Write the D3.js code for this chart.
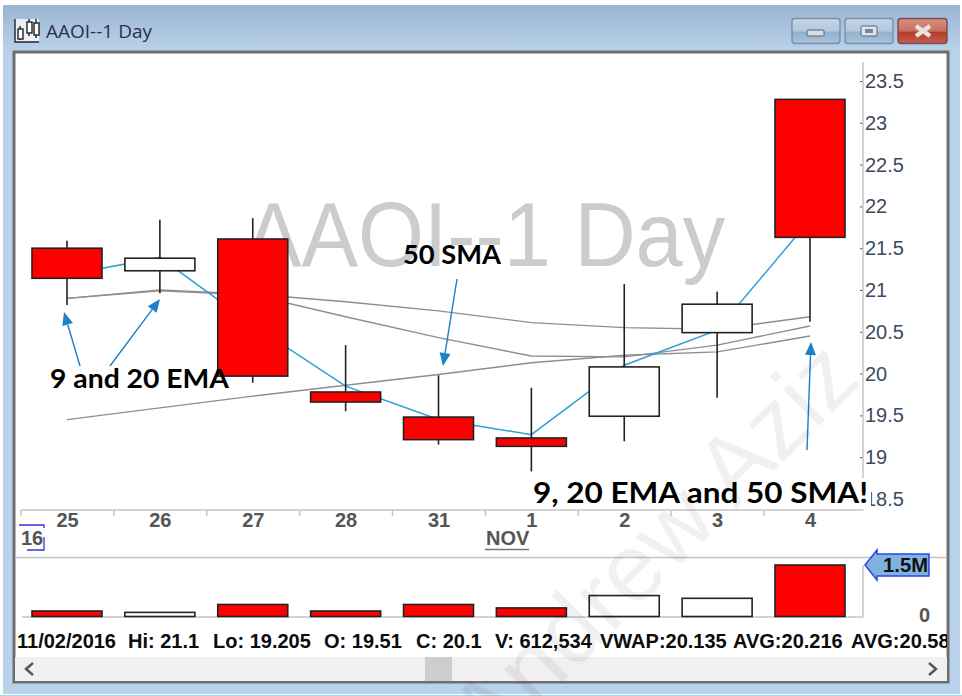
<!DOCTYPE html>
<html><head><meta charset="utf-8">
<script src="https://cdnjs.cloudflare.com/ajax/libs/d3/7.8.5/d3.min.js"></script>
<style>html,body{margin:0;padding:0;background:#fff;overflow:hidden}svg{display:block}</style>
</head><body><svg id="c" width="962" height="696"></svg>
<script>
const days = ["25","26","27","28","31","1","2","3","4"];
const highs = [21.59,21.84,21.86,20.34,19.98,19.83,21.07,20.98,23.28];
const lows = [20.82,20.96,19.89,19.55,19.15,18.83,19.19,19.71,20.62];
const opens = [21.50,21.23,21.61,19.78,19.48,19.23,19.49,20.49,23.28];
const closes = [21.14,21.38,19.97,19.66,19.21,19.13,20.08,20.83,21.63];
const volumes = [0.16,0.12,0.35,0.16,0.35,0.25,0.61,0.53,1.5];
const priceLine = [21.18,21.39,20.58,19.85,19.45,19.27,20.10,20.52,21.84];
const ema9 = [20.90,21.00,20.95,20.86,20.75,20.61,20.55,20.53,20.68];
const ema20 = [20.90,20.99,20.94,20.68,20.43,20.21,20.20,20.34,20.57];
const sma50 = [19.45,19.59,19.73,19.86,19.99,20.13,20.22,20.26,20.45];
const priceTicks = [18.5,19,19.5,20,20.5,21,21.5,22,22.5,23,23.5];
const statusLabels = ["11/02/2016","Hi: 21.1","Lo: 19.205","O: 19.51","C: 20.1","V: 612,534","VWAP:20.135","AVG:20.216","AVG:20.58"];
const statusX = [17,128,213,324,416,495,600,733,851];

const svg = d3.select("#c");
const defs = svg.append("defs");
const grad = (id,stops)=>{const g=defs.append("linearGradient").attr("id",id).attr("x1",0).attr("x2",0).attr("y1",0).attr("y2",1);
  stops.forEach(([o,c])=>g.append("stop").attr("offset",o).attr("stop-color",c));};
grad("tb",[[0,"#9ab4d2"],[1,"#bad2ea"]]);
grad("btn",[[0,"#c5d6e8"],[.5,"#b2c8de"],[.55,"#93b0cd"],[1,"#a9c3dc"]]);
grad("cls",[[0,"#d68f80"],[.5,"#c9705f"],[.55,"#b53a28"],[1,"#c4604c"]]);
defs.append("clipPath").attr("id","inner").append("rect").attr("x",15).attr("y",53).attr("width",932).attr("height",628);

// window chrome
svg.append("rect").attr("width",962).attr("height",696).attr("fill","#fff");
svg.append("rect").attr("x",3).attr("y",5).attr("width",957).attr("height",689).attr("fill","#b9d1e9");
svg.append("rect").attr("x",3).attr("y",5).attr("width",957).attr("height",46).attr("fill","url(#tb)");
svg.append("line").attr("x1",0).attr("x2",962).attr("y1",695.5).attr("y2",695.5).attr("stroke","#8fdcea");
svg.append("rect").attr("x",14).attr("y",52).attr("width",934).attr("height",630).attr("fill","#fff").attr("stroke","#6e6e6e").attr("stroke-width",3);

// title icon and text
svg.append("rect").attr("x",15).attr("y",19).attr("width",24).attr("height",23).attr("fill","#fff").attr("fill-opacity",0.75);
const icon = svg.append("g").attr("fill","none").attr("stroke","#222").attr("stroke-width",1.4);
icon.append("path").attr("d","M15 19V42H39M20 26V40M29 19V36M36 19V38");
icon.selectAll("rect").data([[18,29,5,10],[27,22,5,11],[34,23,5,12]]).join("rect")
  .attr("x",d=>d[0]).attr("y",d=>d[1]).attr("width",d=>d[2]).attr("height",d=>d[3]).attr("fill","#fff");
svg.append("text").attr("x",46).attr("y",38).attr("font-family","'Open Sans'").attr("font-size",19).attr("fill","#2a2f4a").text("AAOI--1 Day");

// window buttons
[[792,48,"url(#btn)"],[845,48,"url(#btn)"],[898,49,"url(#cls)"]].forEach(([x,w,f])=>{
  svg.append("rect").attr("x",x).attr("y",18.5).attr("width",w).attr("height",25).attr("rx",3).attr("fill",f).attr("stroke",x===898?"#7a4a5a":"#7a8fa8").attr("stroke-width",1.4);
});
svg.append("rect").attr("x",807).attr("y",30).attr("width",17).attr("height",6).attr("rx",1).attr("fill","#d8dde4").attr("stroke","#55657a");
svg.append("rect").attr("x",861).attr("y",26).attr("width",16).attr("height",10).attr("rx",1).attr("fill","#dfe4ea").attr("stroke","#55657a");
svg.append("rect").attr("x",865).attr("y",29).attr("width",8).attr("height",4).attr("fill","#6d87a8");
svg.append("path").attr("d","M916 26L930 36M930 26L916 36").attr("stroke","#e9e3df").attr("stroke-width",4.5);

const plot = svg.append("g").attr("clip-path","url(#inner)");

// scales
const x = d3.scalePoint().domain(days.map((d,i)=>i)).range([67,810]);
const y = d3.scaleLinear().domain([18.5,23.5]).range([499,81]);
const v = d3.scaleLinear().domain([0,1.5]).range([616.5,565]);
const bw = 70;

// big watermark title
plot.append("text").attr("x",245).attr("y",266).attr("font-family","'Liberation Sans'").attr("font-size",90)
  .attr("textLength",480).attr("lengthAdjust","spacingAndGlyphs").attr("fill","#cccccc").text("AAOI--1 Day");

// axes
const gray="#c4c4c4";
const yAxis = plot.append("g").attr("transform","translate(863,0)").call(d3.axisRight(y).tickValues(priceTicks).tickSize(0).tickPadding(2).tickFormat(d=>d));
yAxis.select(".domain").remove();
yAxis.selectAll("text").attr("font-family","'Liberation Sans'").attr("font-size",20).attr("fill","#3b4a60");
yAxis.selectAll(".tick").append("line").attr("x1",-3).attr("x2",0).attr("stroke","#555");
plot.append("line").attr("x1",863).attr("x2",863).attr("y1",62).attr("y2",510).attr("stroke",gray).attr("stroke-width",1.5);

const xAxis = plot.append("g").attr("transform","translate(0,510)").call(d3.axisBottom(x).tickFormat((d,i)=>days[i]).tickSize(0).tickPadding(3));
xAxis.select(".domain").remove();
xAxis.selectAll("text").attr("font-family","'Liberation Sans'").attr("font-weight","bold").attr("font-size",20).attr("fill","#555");
plot.append("line").attr("x1",21).attr("x2",863).attr("y1",510).attr("y2",510).attr("stroke",gray).attr("stroke-width",1.5);
plot.selectAll(".xt").data(days).join("line").attr("class","xt")
  .attr("x1",(d,i)=>x(i)-46).attr("x2",(d,i)=>x(i)-46).attr("y1",510).attr("y2",516).attr("stroke",gray).attr("stroke-width",1.5);
plot.append("text").attr("x",21).attr("y",545).attr("font-family","'Liberation Sans'").attr("font-weight","bold").attr("font-size",20).attr("fill","#555").text("16");
plot.append("path").attr("d","M19 525H44V528M44 537V550H27").attr("fill","none").attr("stroke","#3333dd").attr("stroke-width",1.3);
plot.append("text").attr("x",486).attr("y",545).attr("font-family","'Liberation Sans'").attr("font-weight","bold").attr("font-size",20).attr("fill","#555").text("NOV");
plot.append("line").attr("x1",485).attr("x2",529).attr("y1",549.5).attr("y2",549.5).attr("stroke","#777").attr("stroke-width",1.5);
plot.append("line").attr("x1",15).attr("x2",947).attr("y1",557.5).attr("y2",557.5).attr("stroke",gray).attr("stroke-width",1.5);

// moving averages
const line = d3.line().x((d,i)=>x(i)).y(d=>y(d));
[ema9,ema20,sma50].forEach(s=>plot.append("path").attr("d",line(s)).attr("fill","none").attr("stroke","#8e8e8e").attr("stroke-width",1.4));
plot.append("path").attr("d",line(priceLine)).attr("fill","none").attr("stroke","#2e9fd8").attr("stroke-width",1.5);

// candles
const dark="#222";
plot.selectAll(".wick").data(days).join("line").attr("class","wick")
  .attr("x1",(d,i)=>x(i)).attr("x2",(d,i)=>x(i)).attr("y1",(d,i)=>y(highs[i])).attr("y2",(d,i)=>y(lows[i])).attr("stroke",dark).attr("stroke-width",1.6);
plot.selectAll(".body").data(days).join("rect").attr("class","body")
  .attr("x",(d,i)=>x(i)-bw/2).attr("width",bw)
  .attr("y",(d,i)=>y(Math.max(opens[i],closes[i])))
  .attr("height",(d,i)=>Math.abs(y(opens[i])-y(closes[i])))
  .attr("fill",(d,i)=>closes[i]<opens[i]?"#ff0000":"#fff").attr("stroke",dark).attr("stroke-width",1.6);

// volume
plot.append("line").attr("x1",22).attr("x2",863).attr("y1",617).attr("y2",617).attr("stroke",gray).attr("stroke-width",1.5);
plot.append("line").attr("x1",863).attr("x2",863).attr("y1",565).attr("y2",617).attr("stroke",gray).attr("stroke-width",1.5);
plot.selectAll(".vb").data(days).join("rect").attr("class","vb")
  .attr("x",(d,i)=>x(i)-bw/2).attr("width",bw)
  .attr("y",(d,i)=>v(volumes[i])).attr("height",(d,i)=>v(0)-v(volumes[i]))
  .attr("fill",(d,i)=>closes[i]<opens[i]?"#ff0000":"#fff").attr("stroke",dark).attr("stroke-width",1.6);
plot.append("path").attr("d","M865 565L877 550V554H929V576H877V580Z").attr("fill","#7fb3de").attr("stroke","#2a44ee").attr("stroke-width",1.5);
plot.append("text").attr("x",883).attr("y",572).attr("font-family","'Liberation Sans'").attr("font-size",20).attr("fill","#111").attr("font-weight","bold").attr("textLength",45).attr("lengthAdjust","spacingAndGlyphs").text("1.5M");
plot.append("text").attr("x",919).attr("y",622).attr("font-family","'Liberation Sans'").attr("font-size",20).attr("font-weight","bold").attr("fill","#555").text("0");

// status bar
plot.selectAll(".st").data(statusLabels).join("text").attr("class","st")
  .attr("x",(d,i)=>statusX[i]).attr("y",648).attr("font-family","'Liberation Sans'").attr("font-weight","bold").attr("font-size",20).attr("fill","#0c0c0c").text(d=>d);

// scrollbar
plot.append("rect").attr("x",15).attr("y",657).attr("width",932).attr("height",24).attr("fill","#f0f0f0");
plot.append("rect").attr("x",425).attr("y",657).attr("width",27).attr("height",24).attr("fill","#cdcdcd");
plot.append("path").attr("d","M33 663L26 669L33 675M929 663L936 669L929 675").attr("fill","none").attr("stroke","#555").attr("stroke-width",2.4);

// annotations
const note=(t,px,py,s,w)=>svg.append("text").attr("x",px).attr("y",py).attr("font-family","Lato").attr("font-weight","bold").attr("font-size",s)
  .attr("textLength",w).attr("lengthAdjust","spacingAndGlyphs").attr("fill","#000").text(t);
svg.append("rect").attr("x",531).attr("y",478).attr("width",340).attr("height",31).attr("fill","#fff");
note("9 and 20 EMA",50,388,27,179);
note("50 SMA",403,264,27,98);
note("9, 20 EMA and 50 SMA!",533,503,29,335);
const arrows=[[80,366,64,312],[110,366,160,299],[457,279,443,366],[807,450,811,342]];
arrows.forEach(([a,b,c,d])=>{
  const ang=Math.atan2(d-b,c-a),L=13,W=5.5;
  const bx=c-L*Math.cos(ang),by=d-L*Math.sin(ang);
  svg.append("line").attr("x1",a).attr("y1",b).attr("x2",bx).attr("y2",by).attr("stroke","#1b80c6").attr("stroke-width",1.4);
  svg.append("path").attr("d",`M${c} ${d}L${bx-W*Math.sin(ang)} ${by+W*Math.cos(ang)}L${bx+W*Math.sin(ang)} ${by-W*Math.cos(ang)}Z`).attr("fill","#1b80c6");
});

// diagonal watermark
svg.append("text").attr("transform","translate(490,755) rotate(-45)").attr("font-family","'Liberation Sans'").attr("font-size",96)
  .attr("fill","#000").attr("fill-opacity",0.06).text("Andrew Aziz");
</script></body></html>
